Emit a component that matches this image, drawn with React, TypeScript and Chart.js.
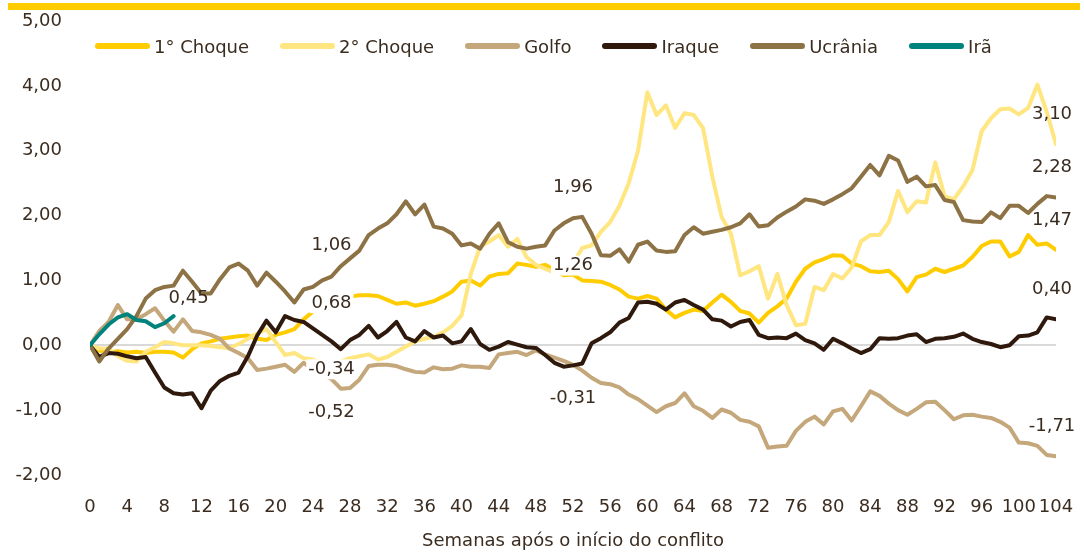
import { useEffect, useRef } from "react";
import { Chart, registerables } from "chart.js";

Chart.register(...registerables);

const FONT = "'DejaVu Sans', sans-serif";
const TEXT = "#3b2c20";

const WEEKS = Array.from({ length: 105 }, (_, i) => i);
const X_STEP = 4;
const Y_MIN = -2;
const Y_MAX = 5;
const X_TITLE = "Semanas após o início do conflito";

const CHOQUE1 = [
  0, -0.08, -0.11, -0.09, -0.11, -0.1, -0.12, -0.1, -0.1, -0.11,
  -0.19, -0.06, 0.03, 0.06, 0.1, 0.12, 0.14, 0.15, 0.1, 0.08,
  0.16, 0.2, 0.25, 0.4, 0.52, 0.6, 0.68, 0.72, 0.75, 0.77,
  0.77, 0.76, 0.7, 0.64, 0.66, 0.61, 0.64, 0.68, 0.75, 0.83,
  0.98, 1.0, 0.92, 1.06, 1.1, 1.11, 1.26, 1.24, 1.21, 1.24,
  1.16, 1.08, 1.09, 1.0, 0.99, 0.98, 0.93, 0.86, 0.75, 0.72,
  0.76, 0.72, 0.55, 0.43, 0.5, 0.55, 0.53, 0.66, 0.78, 0.67,
  0.53, 0.49, 0.35, 0.5, 0.6, 0.72, 0.98, 1.18, 1.28, 1.33,
  1.39, 1.38, 1.26, 1.22, 1.14, 1.13, 1.15, 1.02, 0.83, 1.05,
  1.09, 1.18, 1.13, 1.18, 1.23, 1.36, 1.53, 1.6, 1.6, 1.37,
  1.44, 1.7, 1.55, 1.57, 1.47,
];

const CHOQUE2 = [
  0, -0.05, -0.05, -0.17, -0.24, -0.25, -0.1, -0.03, 0.05, 0.03,
  0.0, 0.0, 0.0, -0.01, -0.03, -0.04, 0.02, 0.1, 0.18, 0.25,
  0.05, -0.15, -0.12, -0.2, -0.22, -0.28, -0.34, -0.25, -0.2, -0.17,
  -0.14, -0.22, -0.18, -0.1, -0.02, 0.06, 0.1, 0.13, 0.2, 0.3,
  0.46, 1.1, 1.52, 1.6, 1.7, 1.52, 1.64, 1.36, 1.24, 1.18,
  1.12, 1.16, 1.26, 1.5, 1.54, 1.75, 1.9, 2.15, 2.5, 3.0,
  3.9, 3.55, 3.7, 3.35, 3.58, 3.55, 3.35, 2.6, 1.98, 1.72,
  1.08, 1.14, 1.22, 0.72, 1.1, 0.62, 0.31, 0.33, 0.9, 0.85,
  1.1, 1.03, 1.2, 1.6, 1.7, 1.7, 1.9, 2.38, 2.05, 2.22,
  2.2, 2.82, 2.3, 2.25, 2.45, 2.7, 3.3, 3.5, 3.64, 3.65,
  3.56, 3.66, 4.02, 3.6, 3.1,
];

const GOLFO = [
  0, 0.22, 0.36, 0.62, 0.4, 0.4, 0.48, 0.57, 0.38, 0.21,
  0.4, 0.22, 0.2, 0.16, 0.1, -0.05, -0.12, -0.2, -0.38, -0.36,
  -0.33, -0.3, -0.41, -0.27, -0.37, -0.45, -0.52, -0.67, -0.66, -0.53,
  -0.32, -0.3, -0.3, -0.32, -0.37, -0.41, -0.42, -0.34, -0.37, -0.36,
  -0.31, -0.33, -0.33, -0.35, -0.14, -0.12, -0.1, -0.15, -0.08, -0.14,
  -0.19, -0.24, -0.3, -0.39, -0.5, -0.58, -0.6, -0.65, -0.76, -0.83,
  -0.93, -1.03, -0.94, -0.89, -0.74, -0.94, -1.01, -1.12, -0.99, -1.04,
  -1.15, -1.18, -1.25, -1.58, -1.56, -1.55, -1.32, -1.18, -1.1, -1.22,
  -1.02, -0.98, -1.16, -0.94, -0.71, -0.78, -0.9, -1.0, -1.07, -0.98,
  -0.88, -0.87, -1.0, -1.14, -1.08, -1.07, -1.1, -1.12, -1.18, -1.27,
  -1.5, -1.51, -1.55, -1.69, -1.71,
];

const IRAQUE = [
  0, -0.18, -0.12, -0.13, -0.17, -0.2, -0.18, -0.42, -0.65, -0.74,
  -0.76, -0.74, -0.97, -0.7, -0.55, -0.47, -0.42, -0.17, 0.15, 0.38,
  0.2, 0.45, 0.39, 0.36, 0.26, 0.16, 0.06, -0.06, 0.08, 0.16,
  0.3, 0.12, 0.22, 0.36, 0.12, 0.06, 0.22, 0.12, 0.15, 0.03,
  0.06, 0.25, 0.02, -0.07, -0.02, 0.05, 0.01, -0.03, -0.04, -0.15,
  -0.27, -0.33, -0.31, -0.28, 0.03, 0.11, 0.2, 0.35, 0.42, 0.66,
  0.67, 0.64, 0.55, 0.66, 0.7, 0.62, 0.55, 0.4, 0.38, 0.29,
  0.36, 0.39, 0.16, 0.11, 0.12, 0.11, 0.18, 0.08, 0.03, -0.07,
  0.1, 0.03, -0.05, -0.12, -0.06, 0.11, 0.1, 0.11, 0.15, 0.17,
  0.05, 0.1, 0.11, 0.13, 0.18, 0.1, 0.05, 0.02, -0.03, 0.0,
  0.14, 0.15, 0.2, 0.43, 0.4,
];

const UCRANIA = [
  0, -0.25, -0.05, 0.1, 0.25, 0.45, 0.72, 0.85, 0.9, 0.92,
  1.15, 0.98, 0.8, 0.8, 1.02, 1.2, 1.26, 1.15, 0.92, 1.12,
  0.98, 0.83, 0.66, 0.86, 0.9, 1.0, 1.06, 1.22, 1.34, 1.46,
  1.7, 1.8, 1.88, 2.02, 2.22, 2.02, 2.17, 1.83, 1.8, 1.72,
  1.54, 1.57, 1.49, 1.72, 1.88, 1.59, 1.52, 1.49, 1.52, 1.54,
  1.77, 1.88, 1.96, 1.98, 1.72, 1.39, 1.38, 1.48, 1.29, 1.55,
  1.6, 1.46, 1.44, 1.45, 1.7, 1.82, 1.72, 1.75, 1.78, 1.82,
  1.88, 2.02, 1.83, 1.85, 1.97, 2.06, 2.14, 2.25, 2.23, 2.18,
  2.25, 2.33, 2.42, 2.6, 2.78, 2.62, 2.92, 2.85, 2.52, 2.6,
  2.45, 2.47, 2.24, 2.21, 1.93, 1.91, 1.9, 2.05, 1.96, 2.15,
  2.15, 2.04, 2.18, 2.3, 2.28,
];

const IRA = [0, 0.17, 0.32, 0.43, 0.48, 0.39, 0.37, 0.28, 0.34, 0.45];

const SERIES = [
  { name: "1° Choque", color: "#FFCC00", data: CHOQUE1, order: 6 },
  { name: "2° Choque", color: "#FFE680", data: CHOQUE2, order: 5 },
  { name: "Golfo", color: "#C4A77B", data: GOLFO, order: 4 },
  { name: "Iraque", color: "#2E190C", data: IRAQUE, order: 3 },
  { name: "Ucrânia", color: "#8C7244", data: UCRANIA, order: 2 },
  { name: "Irã", color: "#00837D", data: IRA, order: 1 },
];

// which points carry a value label, and where the label sits relative to the point
const LABELS = [
  { series: 4, week: 26, pos: "above" },
  { series: 0, week: 26, pos: "center" },
  { series: 1, week: 26, pos: "center" },
  { series: 2, week: 26, pos: "below" },
  { series: 4, week: 52, pos: "above" },
  { series: 1, week: 52, pos: "center" },
  { series: 3, week: 52, pos: "below" },
  { series: 1, week: 104, pos: "end" },
  { series: 4, week: 104, pos: "end" },
  { series: 0, week: 104, pos: "end" },
  { series: 3, week: 104, pos: "end" },
  { series: 2, week: 104, pos: "end" },
  { series: 5, week: 9, pos: "right" },
];

const OFFSETS: Record<string, { dx: number; dy: number }> = {
  above: { dx: 0, dy: -31 },
  center: { dx: 0, dy: 2 },
  below: { dx: 0, dy: 33 },
  end: { dx: -4, dy: -30 },
  right: { dx: 15, dy: -18 },
};

const fmt = (v: number) => v.toFixed(2).replace(".", ",");

const labelPlugin = {
  id: "valueLabels",
  afterDatasetsDraw(chart: any) {
    const ctx = chart.ctx;
    ctx.save();
    ctx.font = `400 18px ${FONT}`;
    ctx.textAlign = "center";
    ctx.textBaseline = "middle";
    for (const l of LABELS) {
      const meta = chart.getDatasetMeta(l.series);
      const pt = meta.data[l.week];
      if (!pt) continue;
      const text = fmt(SERIES[l.series].data[l.week]);
      const off = OFFSETS[l.pos];
      const x = pt.x + off.dx;
      const y = pt.y + off.dy;
      if (l.pos === "center") {
        const w = ctx.measureText(text).width;
        ctx.fillStyle = "#ffffff";
        ctx.fillRect(x - w / 2 - 2, y - 10, w + 4, 20);
      }
      ctx.fillStyle = TEXT;
      ctx.fillText(text, x, y);
    }
    ctx.restore();
  },
};

const CLEAR = "rgba(0,0,0,0)";

export default function App() {
  const ref = useRef<HTMLCanvasElement | null>(null);

  useEffect(() => {
    if (!ref.current) return;
    const chart = new Chart(ref.current, {
      type: "line",
      data: {
        datasets: SERIES.map((s) => ({
          label: s.name,
          data: s.data.map((v, i) => ({ x: WEEKS[i], y: v })),
          borderColor: s.color,
          backgroundColor: s.color,
          borderWidth: 4,
          pointRadius: 0,
          pointHoverRadius: 0,
          tension: 0,
          borderCapStyle: "round",
          borderJoinStyle: "round",
          order: s.order,
        })),
      },
      options: {
        animation: false,
        responsive: false,
        devicePixelRatio: 1,
        layout: { padding: { top: 21, right: 28, left: 0, bottom: 0 } },
        plugins: {
          legend: { display: false },
          tooltip: { enabled: false },
        },
        scales: {
          x: {
            type: "linear",
            min: 0,
            max: 104,
            afterFit: (s: any) => {
              s.height = 77;
            },
            grid: {
              display: true,
              drawOnChartArea: false,
              drawTicks: true,
              tickLength: 22,
              color: CLEAR,
              tickColor: CLEAR,
            },
            border: { display: false },
            ticks: {
              stepSize: X_STEP,
              autoSkip: false,
              maxRotation: 0,
              padding: 0,
              color: TEXT,
              font: { family: FONT, size: 18 },
            },
            title: {
              display: true,
              text: X_TITLE,
              color: TEXT,
              font: { family: FONT, size: 18 },
              padding: { top: 0, bottom: 0 },
            },
          },
          y: {
            min: Y_MIN,
            max: Y_MAX,
            afterFit: (s: any) => {
              s.width = 90;
            },
            grid: {
              drawTicks: true,
              tickLength: 28,
              tickColor: CLEAR,
              lineWidth: 2,
              color: (c: any) => (c.tick && c.tick.value === 0 ? "#d9d9d9" : CLEAR),
            },
            border: { display: false },
            ticks: {
              stepSize: 1,
              padding: 0,
              color: TEXT,
              font: { family: FONT, size: 18 },
              callback: (v: any) => fmt(Number(v)),
            },
          },
        },
      },
      plugins: [labelPlugin],
    } as any);
    return () => chart.destroy();
  }, []);

  return (
    <div style={{ position: "absolute", left: 0, top: 0, width: 1084, height: 552, background: "#fff", overflow: "hidden" }}>
      <canvas ref={ref} width={1084} height={552} style={{ position: "absolute", left: 0, top: 0, display: "block" }} />
      <div style={{ position: "absolute", left: 8, top: 3, width: 1072, height: 7, background: "#FFCC00" }} />
      <div
        style={{
          position: "absolute",
          left: 95,
          top: 34,
          height: 24,
          display: "flex",
          alignItems: "center",
          gap: 31,
          fontFamily: FONT,
          fontSize: 18,
          color: TEXT,
          whiteSpace: "nowrap",
        }}
      >
        {SERIES.map((s) => (
          <div key={s.name} style={{ display: "flex", alignItems: "center" }}>
            <span style={{ display: "inline-block", width: 55, height: 6, borderRadius: 3, background: s.color, marginRight: 4 }} />
            <span>{s.name}</span>
          </div>
        ))}
      </div>
    </div>
  );
}
